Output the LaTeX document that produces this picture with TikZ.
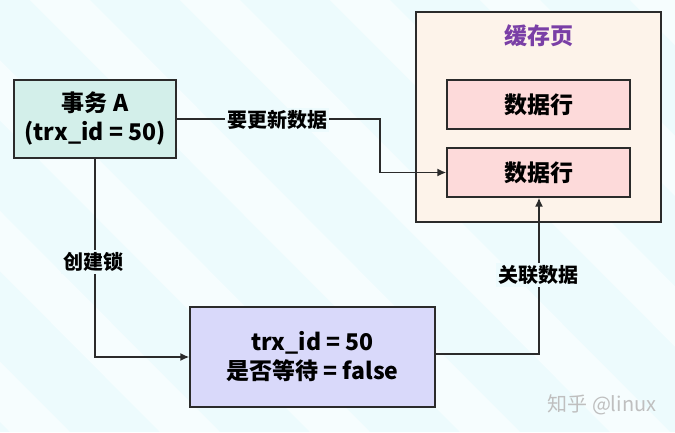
\documentclass[tikz,border=0pt]{standalone}
\usepackage{fontspec}
\setmainfont{Noto Sans CJK SC}
\usetikzlibrary{arrows.meta}
\definecolor{bgc}{HTML}{EDFBFD}
\definecolor{tealf}{HTML}{D3EFEA}
\definecolor{peachf}{HTML}{FDF3EA}
\definecolor{pinkf}{HTML}{FDDADA}
\definecolor{lavf}{HTML}{D9D9FA}
\definecolor{edge}{HTML}{2B2B2B}
\definecolor{titlec}{HTML}{7A3FA6}
\tikzset{
  box/.style={draw=edge, line width=1.2pt, inner sep=0pt, align=center, font=\bfseries\fontsize{23}{29}\selectfont},
  conn/.style={draw=edge, line width=1.8pt, -{Latex[length=9pt,width=8pt]}},
  lab/.style={fill=bgc, inner sep=2pt, font=\bfseries\fontsize{20}{22}\selectfont}
}
\begin{document}
\begin{tikzpicture}[x=1pt,y=-1pt]
\useasboundingbox (0,0) rectangle (675,432);
\fill[bgc] (0,0) rectangle (675,432);
\begin{scope}
\clip (0,0) rectangle (675,432);
\foreach \s in {-420,-270,-120,30,180,330,480,630}{
  \fill[white,opacity=0.55] (\s,0) -- (\s+60,0) -- (\s+60+430,432) -- (\s+430,432) -- cycle;
}
\end{scope}
% nodes
\node[box, fill=tealf, minimum width=162pt, minimum height=78pt] (tx) at (95,119) {事务 A\\(trx\_id = 50)};
\node[draw=edge, line width=1.2pt, fill=peachf, minimum width=245pt, minimum height=210pt] (page) at (538.5,117) {};
\node[font=\bfseries\fontsize{23}{26}\selectfont, text=titlec] (title) at (539,36) {缓存页};
\node[box, fill=pinkf, minimum width=183pt, minimum height=49pt] (row1) at (538.5,104.5) {数据行};
\node[box, fill=pinkf, minimum width=183pt, minimum height=49pt] (row2) at (538.5,172.5) {数据行};
\node[box, fill=lavf, minimum width=245pt, minimum height=100pt] (lock) at (312.5,357) {trx\_id = 50\\是否等待 = false};
% connectors
\coordinate (b1) at (380,119);
\draw[conn] (tx.east |- b1) -- (b1) |- (row2.west);
\node[lab] (l1) at (277,120) {要更新数据};
\draw[conn] (tx.south) |- (lock.west);
\node[lab] (l2) at (93,262) {创建锁};
\coordinate (b3) at (539,354);
\draw[conn] (lock.east |- b3) -- (b3) -- (row2.south -| b3);
\node[lab] (l3) at (538,275) {关联数据};
% watermark
\node[text=black!25, font=\fontsize{20}{22}\selectfont] (wm) at (602,405) {知乎 @linux};
\end{tikzpicture}
\end{document}
